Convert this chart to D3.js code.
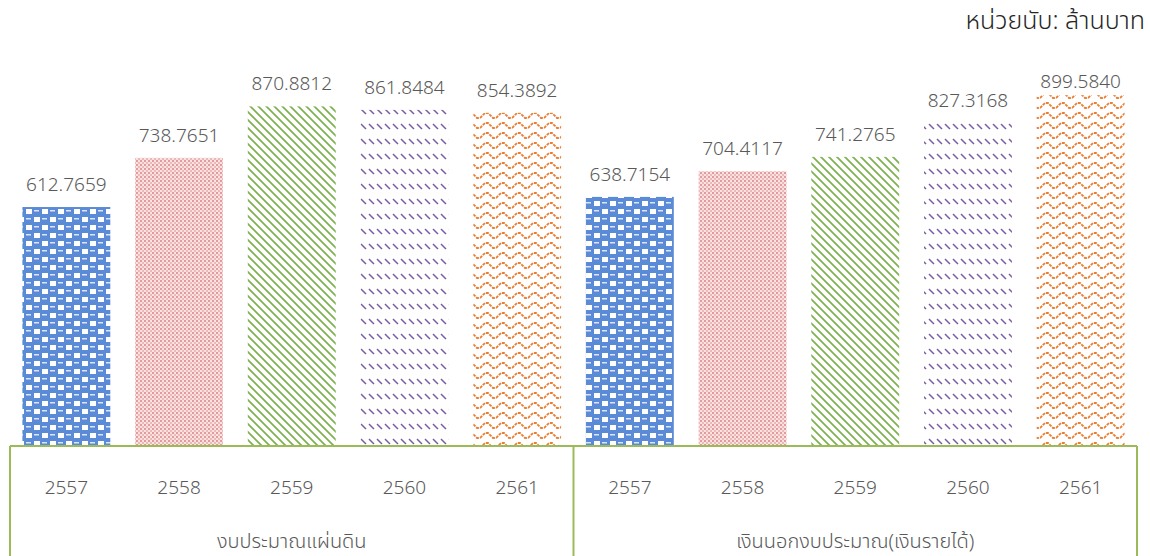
<!DOCTYPE html>
<html>
<head>
<meta charset="utf-8">
<script src="https://cdn.jsdelivr.net/npm/d3@7"></script>
<style>
  html, body { margin: 0; padding: 0; background: #fff; }
  svg { display: block; }
  text { font-family: "Noto Sans Thai", "Leelawadee UI", Tahoma, "Noto Sans", sans-serif; fill: #595959; font-weight: 300; }
</style>
</head>
<body>
<svg id="chart" width="1150" height="556"></svg>
<script>
// Budget by fiscal year, in million baht
const groups = ["งบประมาณแผ่นดิน", "เงินนอกงบประมาณ(เงินรายได้)"];
const years = ["2557", "2558", "2559", "2560", "2561"];
const stateBudget = [612.7659, 738.7651, 870.8812, 861.8484, 854.3892];
const offBudget = [638.7154, 704.4117, 741.2765, 827.3168, 899.5840];
const seriesValues = [stateBudget, offBudget];
const unitLabel = "หน่วยนับ: ล้านบาท";

const chartH = 556;
const plotLeft = 10, plotRight = 1137, plotBase = 446, plotTop = 56;
const svg = d3.select("#chart");
const defs = svg.append("defs");

// Fill patterns, one per year
function pat(id, w, h, build) {
  const p = defs.append("pattern").attr("id", id)
    .attr("patternUnits", "userSpaceOnUse").attr("width", w).attr("height", h);
  build(p);
}
pat("p0", 16, 16, p => {
  p.append("rect").attr("width", 16).attr("height", 16).attr("fill", "#5b8ad6");
  p.append("rect").attr("x", 10).attr("y", 1).attr("width", 6).attr("height", 5).attr("fill", "#fff");
  p.append("rect").attr("x", 2).attr("y", 9).attr("width", 6).attr("height", 5).attr("fill", "#fff");
  p.append("rect").attr("x", 2).attr("y", 2).attr("width", 5).attr("height", 1.5).attr("fill", "#dbe5f7");
  p.append("rect").attr("x", 10).attr("y", 10).attr("width", 5).attr("height", 1.5).attr("fill", "#dbe5f7");
});
pat("p1", 4, 4, p => {
  p.append("rect").attr("width", 4).attr("height", 4).attr("fill", "#f9e2e2");
  p.append("rect").attr("x", 0).attr("y", 0).attr("width", 2).attr("height", 2).attr("fill", "#e29a9a");
  p.append("rect").attr("x", 2).attr("y", 2).attr("width", 2).attr("height", 2).attr("fill", "#edb8b8");
});
pat("p2", 8, 8, p => {
  p.append("rect").attr("width", 8).attr("height", 8).attr("fill", "#fff");
  p.append("path").attr("d", "M-2,-2 L10,10 M-2,6 L2,10 M6,-2 L10,2")
    .attr("stroke", "#7fb050").attr("stroke-width", 1.7);
});
pat("p3", 8, 15, p => {
  p.append("rect").attr("width", 8).attr("height", 15).attr("fill", "#fff");
  p.append("path").attr("d", "M1,4 L6,9").attr("stroke", "#7a5ca6").attr("stroke-width", 1.5);
});
pat("p4", 16, 10, p => {
  p.append("rect").attr("width", 16).attr("height", 10).attr("fill", "#fff");
  p.append("path").attr("d", "M0,8 L5,3 L8,3 L13,8 L16,8")
    .attr("fill", "none").attr("stroke", "#ed7d31").attr("stroke-width", 1.8)
    .attr("stroke-dasharray", "3,1");
});

// Flatten into one band per (group, year)
const rows = [];
groups.forEach((g, gi) => years.forEach((y, yi) => rows.push({ g, gi, y, yi, v: seriesValues[gi][yi], key: gi + "-" + y })));

const x = d3.scaleBand().domain(rows.map(d => d.key)).range([plotLeft, plotRight])
  .paddingInner(0.22).paddingOuter(0.11);
const yScale = d3.scaleLinear().domain([0, 1000]).range([plotBase, plotTop]);

svg.append("g").selectAll("rect").data(rows).join("rect")
  .attr("x", d => x(d.key)).attr("width", x.bandwidth())
  .attr("y", d => yScale(d.v)).attr("height", d => plotBase - yScale(d.v))
  .attr("fill", d => `url(#p${d.yi})`);

svg.append("g").selectAll("text").data(rows).join("text")
  .attr("x", d => x(d.key) + x.bandwidth() / 2)
  .attr("y", d => Math.max(yScale(d.v) - 16, 88))
  .attr("text-anchor", "middle").attr("font-size", 19)
  .text(d => d.v.toFixed(4));

// Category table under the bars
const axis = svg.append("g").attr("stroke", "#9bbb59").attr("stroke-width", 2);
axis.append("line").attr("x1", plotLeft).attr("x2", plotRight).attr("y1", plotBase).attr("y2", plotBase);
const step = x.step();
const edges = [plotLeft, plotLeft + step * years.length, plotRight];
edges.forEach(e => axis.append("line").attr("x1", e).attr("x2", e).attr("y1", plotBase).attr("y2", chartH));

svg.append("g").selectAll("text").data(rows).join("text")
  .attr("x", d => x(d.key) + x.bandwidth() / 2)
  .attr("y", 494).attr("text-anchor", "middle").attr("font-size", 19)
  .text(d => d.y);

svg.append("g").selectAll("text").data(groups).join("text")
  .attr("x", (d, i) => (edges[i] + edges[i + 1]) / 2)
  .attr("y", 548).attr("text-anchor", "middle").attr("font-size", 20)
  .text(d => d);

svg.append("text").attr("x", 1145).attr("y", 29).attr("text-anchor", "end")
  .attr("font-size", 25).style("fill", "#262626").text(unitLabel);
</script>
</body>
</html>
